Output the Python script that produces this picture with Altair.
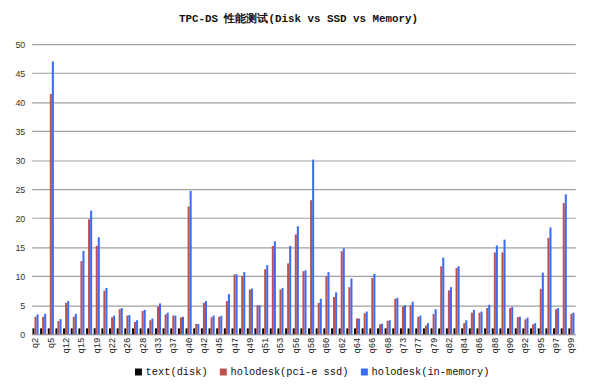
import altair as alt
import pandas as pd

queries = ["q2", "q3", "q5", "q7", "q12", "q13", "q15", "q17", "q19", "q20",
           "q22", "q25", "q26", "q27", "q28", "q29", "q33", "q34", "q37", "q39",
           "q40", "q41", "q42", "q43", "q45", "q46", "q47", "q48", "q49", "q50",
           "q51", "q52", "q53", "q55", "q56", "q57", "q58", "q59", "q60", "q61",
           "q62", "q63", "q64", "q65", "q66", "q67", "q68", "q71", "q73", "q76",
           "q77", "q78", "q79", "q80", "q82", "q83", "q84", "q85", "q86", "q87",
           "q88", "q89", "q90", "q91", "q92", "q93", "q95", "q96", "q97", "q98",
           "q99"]

text_disk = [1.0, 1.0, 1.0, 1.0, 1.0, 1.0, 1.0, 1.0, 1.0, 1.0,
             1.0, 1.0, 1.0, 1.0, 1.0, 1.0, 1.0, 1.0, 1.0, 1.0,
             1.0, 1.0, 1.0, 1.0, 1.0, 1.0, 1.0, 1.0, 1.0, 1.0,
             1.0, 1.0, 1.0, 1.0, 1.0, 1.0, 1.0, 1.0, 1.0, 1.0,
             1.0, 1.0, 1.0, 1.0, 1.0, 1.0, 1.0, 1.0, 1.0, 1.0,
             1.0, 1.0, 1.0, 1.0, 1.0, 1.0, 1.0, 1.0, 1.0, 1.0,
             1.0, 1.0, 1.0, 1.0, 1.0, 1.0, 1.0, 1.0, 1.0, 1.0,
             1.0]

holodesk_ssd = [3.0, 3.0, 41.4, 2.26, 5.4, 3.0, 12.6, 19.8, 15.25, 7.5,
                2.9, 4.3, 3.2, 2.1, 4.0, 2.4, 4.75, 3.4, 3.2, 2.9,
                22.0, 1.75, 5.4, 2.9, 3.0, 5.7, 10.3, 10.05, 7.7, 5.0,
                11.2, 15.2, 7.7, 12.2, 17.2, 10.85, 23.1, 5.4, 10.0, 6.4,
                14.3, 8.1, 2.7, 3.6, 9.7, 1.7, 2.3, 6.1, 4.8, 5.0,
                3.0, 1.5, 3.5, 11.7, 7.55, 11.4, 1.9, 3.7, 3.7, 4.5,
                14.1, 14.1, 4.5, 2.95, 2.55, 1.7, 7.8, 16.6, 4.3, 22.6,
                3.5]

holodesk_mem = [3.4, 3.5, 47.0, 2.6, 5.7, 3.5, 14.35, 21.3, 16.7, 7.97,
                3.2, 4.5, 3.3, 2.4, 4.2, 2.7, 5.3, 3.7, 3.2, 3.0,
                24.7, 1.75, 5.7, 3.2, 3.15, 6.9, 10.3, 10.7, 7.85, 5.0,
                11.9, 16.0, 7.95, 15.2, 18.6, 11.0, 30.1, 6.1, 10.7, 7.2,
                14.8, 9.6, 2.7, 3.9, 10.4, 1.8, 2.4, 6.25, 5.0, 5.6,
                3.2, 1.9, 4.3, 13.2, 8.1, 11.7, 2.4, 4.2, 3.9, 5.05,
                15.3, 16.3, 4.7, 3.0, 2.85, 1.9, 10.6, 18.4, 4.5, 24.1,
                3.7]

series_names = ["text(disk)", "holodesk(pci-e ssd)", "holodesk(in-memory)"]
series_colors = ["#0a0a0a", "#c0504d", "#3a6cf4"]
labeled_queries = ["q2", "q5", "q12", "q15", "q19", "q22", "q26", "q28", "q33",
                   "q37", "q40", "q42", "q45", "q47", "q49", "q51", "q53", "q56",
                   "q58", "q60", "q62", "q64", "q66", "q68", "q73", "q77", "q79",
                   "q82", "q84", "q86", "q88", "q90", "q92", "q95", "q97", "q99"]
y_ticks = [0, 5, 10, 15, 20, 25, 30, 35, 40, 45, 50]

rows = []
for i, q in enumerate(queries):
    for s, vals in zip(series_names, [text_disk, holodesk_ssd, holodesk_mem]):
        rows.append({"query": q, "series": s, "value": vals[i]})
df = pd.DataFrame(rows)

chart = alt.Chart(df).mark_bar().encode(
    x=alt.X("query:N", sort=queries,
            scale=alt.Scale(paddingInner=0.2, paddingOuter=0.1),
            axis=alt.Axis(values=labeled_queries, title=None, labelAngle=270,
                          labelFont="Liberation Mono", labelFontSize=9,
                          labelColor="#222222", ticks=False, grid=False,
                          domainColor="#a0a0a0", labelPadding=3)),
    xOffset=alt.XOffset("series:N", sort=series_names),
    y=alt.Y("value:Q", scale=alt.Scale(domain=[0, 50], nice=False),
            axis=alt.Axis(values=y_ticks, title=None, domain=False, ticks=False,
                          gridColor="#a0a0a0", gridWidth=1.2,
                          labelFont="Liberation Sans", labelFontSize=9,
                          labelColor="#333333", labelPadding=7)),
    color=alt.Color("series:N", sort=series_names,
                    scale=alt.Scale(domain=series_names, range=series_colors),
                    legend=alt.Legend(title=None, orient="none", legendX=103,
                                      legendY=327, direction="horizontal",
                                      symbolType="square", symbolSize=50,
                                      symbolStrokeWidth=0,
                                      labelFont="Liberation Mono",
                                      labelFontSize=10.5, labelColor="#111111",
                                      labelOffset=2, columnPadding=10)),
).properties(
    width=551, height=294,
    title=alt.TitleParams("TPC-DS 性能测试(Disk vs SSD vs Memory)",
                          font="Liberation Mono", fontSize=11, fontWeight="bold",
                          color="#111111", anchor="middle", offset=16, dx=-5),
    autosize=alt.AutoSizeParams(type="none"),
    padding={"left": 24, "top": 34, "right": 17, "bottom": 55},
).configure_view(stroke=None)

chart.save("out.html", embed_options={"renderer": "svg", "actions": False})
